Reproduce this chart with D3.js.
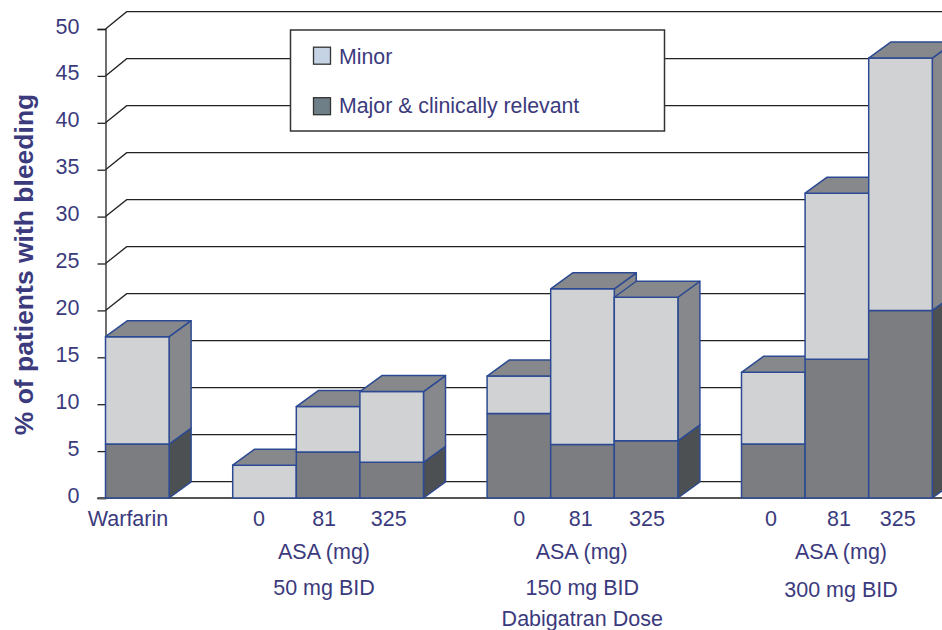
<!DOCTYPE html>
<html>
<head>
<meta charset="utf-8">
<script src="https://cdn.jsdelivr.net/npm/d3@7"></script>
<style>
  html, body { margin: 0; background: #fff; overflow: hidden; }
  text { font-family: "Liberation Sans", Arial, sans-serif; fill: #3b3a7d; }
</style>
</head>
<body>
<div id="chart"></div>
<script>
// slots along the x axis, the gaps keep the dose groups apart
const slots = ["Warfarin", "gap1", "50-0", "50-81", "50-325", "gap2", "150-0", "150-81", "150-325", "gap3", "300-0", "300-81", "300-325"];
const barKeys = ["Warfarin", "50-0", "50-81", "50-325", "150-0", "150-81", "150-325", "300-0", "300-81", "300-325"];
const barLabels = ["Warfarin", "0", "81", "325", "0", "81", "325", "0", "81", "325"];
const majorValues = [5.75, 0, 4.9, 3.8, 9.0, 5.7, 6.1, 5.75, 14.8, 20.0];
const minorValues = [11.45, 3.5, 4.85, 7.55, 4.0, 16.6, 15.3, 7.65, 17.7, 26.9];
const yTicks = [0, 5, 10, 15, 20, 25, 30, 35, 40, 45, 50];
const legendLabels = ["Minor", "Major & clinically relevant"];

const width = 942, height = 630;
const plotLeft = 105.5, plotRight = 932.3, plotTop = 29, plotBottom = 498;
const depthX = 22, depthY = -16;
const wallX = 21.2;
const edge = "#2c4a93";
const labelSize = "21.5px";

const svg = d3.select("#chart").append("svg")
    .attr("width", width)
    .attr("height", height)
    .style("display", "block");

const x = d3.scaleBand().domain(slots).range([plotLeft, plotRight]);
const y = d3.scaleLinear().domain([0, 50]).range([plotBottom, plotTop]);
// the back wall is a touch taller than the front plane
const yWall = d3.scaleLinear().domain([0, 50]).range([481.7, 11.7]);

// back wall grid, with the short diagonal going back from the axis
yTicks.forEach(t => {
    svg.append("path")
        .attr("d", `M${plotLeft},${y(t)}L${plotLeft + wallX},${yWall(t)}L${width},${yWall(t)}`)
        .attr("fill", "none")
        .attr("stroke", "#222")
        .attr("stroke-width", 1.3);
});

const yAxis = svg.append("g")
    .attr("transform", `translate(${plotLeft},0)`)
    .call(d3.axisLeft(y).tickValues(yTicks).tickSize(8).tickPadding(18));
yAxis.selectAll("line").attr("stroke", "#222").attr("stroke-width", 1.3);
yAxis.select(".domain").attr("stroke", "#222").attr("stroke-width", 1.3);
yAxis.selectAll("text")
    .attr("dy", 4)
    .style("font-size", labelSize)
    .style("font-family", "Liberation Sans");

svg.append("line")
    .attr("x1", plotLeft - 8).attr("x2", width)
    .attr("y1", plotBottom).attr("y2", plotBottom)
    .attr("stroke", "#555").attr("stroke-width", 2);

const rows = barKeys.map((k, i) => ({ key: k, major: majorValues[i], minor: minorValues[i] }));
const stacked = d3.stack().keys(["major", "minor"])(rows);
const frontColor = { major: "#7c7d81", minor: "#d1d2d4" };
const sideColor = { major: "#4d5052", minor: "#87888b" };

function poly(points, fill) {
    return svg.append("polygon")
        .attr("points", points.map(p => p.join(",")).join(" "))
        .attr("fill", fill)
        .attr("stroke", edge)
        .attr("stroke-width", 1.5)
        .attr("stroke-linejoin", "round");
}

// bars go left to right so each one covers the side of the previous one
rows.forEach((d, i) => {
    const x0 = x(d.key), x1 = x0 + x.bandwidth();
    stacked.forEach(layer => {
        const [v0, v1] = layer[i];
        if (v1 === v0) return;
        const y0 = y(v0), y1 = y(v1);
        poly([[x1, y0], [x1 + depthX, y0 + depthY], [x1 + depthX, y1 + depthY], [x1, y1]], sideColor[layer.key]);
        poly([[x0, y0], [x1, y0], [x1, y1], [x0, y1]], frontColor[layer.key]);
    });
    const yt = y(d.major + d.minor);
    poly([[x0, yt], [x0 + depthX, yt + depthY], [x1 + depthX, yt + depthY], [x1, yt]], "#87888b");
});

// tick labels under the bars, hand placed in the original so nudge them a bit
const labelNudge = [-9.3, -5.5, -4, -3, 0.4, -1.8, 0.9, -2.3, 2.1, -2.8];
const xAxis = svg.append("g")
    .attr("transform", `translate(0,${plotBottom})`)
    .call(d3.axisBottom(x).tickValues(barKeys).tickSize(0).tickPadding(12.7)
        .tickFormat(k => barLabels[barKeys.indexOf(k)]));
xAxis.select(".domain").remove();
xAxis.selectAll("text")
    .attr("dx", (k, i) => labelNudge[i])
    .style("font-size", labelSize)
    .style("font-family", "Liberation Sans");

const notes = [
    ["ASA (mg)", 324, 558.5], ["ASA (mg)", 581.7, 558.5], ["ASA (mg)", 841, 558.5],
    ["50 mg BID", 324, 595], ["150 mg BID", 582.3, 595], ["300 mg BID", 841, 596.7],
    ["Dabigatran Dose", 582.3, 626]
];
svg.selectAll(".note").data(notes).enter().append("text")
    .attr("class", "note")
    .attr("x", d => d[1])
    .attr("y", d => d[2])
    .attr("text-anchor", "middle")
    .style("font-size", labelSize)
    .text(d => d[0]);

svg.append("text")
    .attr("transform", "translate(33,264.5) rotate(-90)")
    .attr("text-anchor", "middle")
    .style("font-size", "26.5px")
    .style("font-weight", "bold")
    .text("% of patients with bleeding");

// legend box
svg.append("rect")
    .attr("x", 290.5).attr("y", 30)
    .attr("width", 374).attr("height", 101)
    .attr("fill", "#fff").attr("stroke", "#333").attr("stroke-width", 1.5);

const legendSwatch = ["#c6d3e4", "#6f7f87"];
legendLabels.forEach((label, i) => {
    svg.append("rect")
        .attr("x", 313.5).attr("y", 47.2 + i * 50.5)
        .attr("width", 17).attr("height", 17)
        .attr("fill", legendSwatch[i]).attr("stroke", "#333").attr("stroke-width", 1.3);
    svg.append("text")
        .attr("x", 339).attr("y", 64 + i * 49)
        .style("font-size", "21.3px")
        .text(label);
});
</script>
</body>
</html>
